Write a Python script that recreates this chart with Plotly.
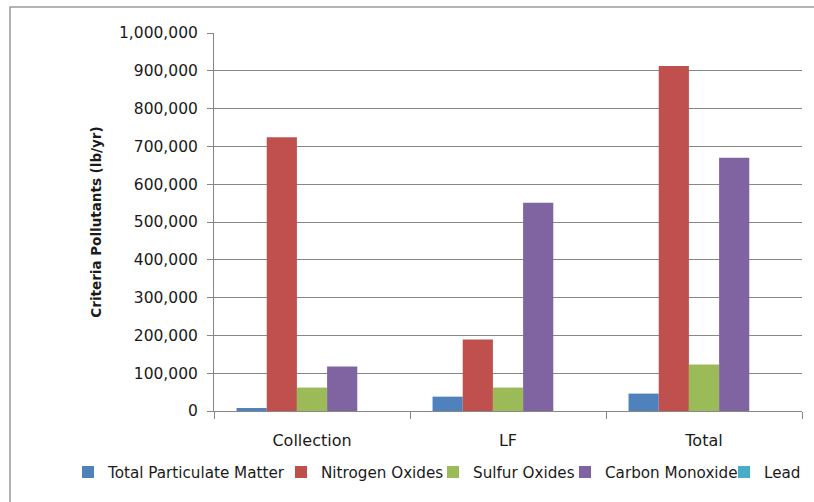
import plotly.graph_objects as go

categories = ["Collection", "LF", "Total"]
series_names = ["Total Particulate Matter", "Nitrogen Oxides", "Sulfur Oxides",
                "Carbon Monoxide", "Lead"]
tpm = [8000, 38000, 46000]
nox = [724000, 189000, 913000]
sox = [62000, 62000, 123000]
co = [118000, 551000, 670000]
lead = [0, 0, 0]
colors = ["#4F81BD", "#C0504D", "#9BBB59", "#8064A2", "#4BACC6"]
y_ticks = list(range(0, 1000001, 100000))
y_ticktext = [f"{v:,}" for v in y_ticks]

W, H = 814, 502
L, R, T, B = 214, 12, 33, 91
pw, ph = W - L - R, H - T - B

def px_x(p):
    return (p - L) / pw

def px_y(p):
    return (H - B - p) / ph

FONT = "DejaVu Sans"
TXT = "#1a1a1a"
GRID = "#878787"

fig = go.Figure()
values = [tpm, nox, sox, co, lead]
legend_ids = ["legend", "legend2", "legend3", "legend4", "legend5"]
for name, vals, col, lg in zip(series_names, values, colors, legend_ids):
    fig.add_trace(go.Bar(x=categories, y=vals, name=name, marker_color=col,
                         marker_line_width=0, legend=lg))

# legend item origins (text starts ~40px right of origin)
legend_px = [68, 281, 433, 565, 724]
leg_y = px_y(472)
layout_legends = {}
for lg, p in zip(legend_ids, legend_px):
    layout_legends[lg] = dict(x=px_x(p), y=leg_y, xanchor="left", yanchor="middle",
                              orientation="h", bgcolor="rgba(0,0,0,0)",
                              font=dict(family=FONT, size=15.2, color=TXT),
                              borderwidth=0)

fig.update_layout(
    width=W, height=H,
    margin=dict(l=L, r=R, t=T, b=B, pad=0, autoexpand=False),
    paper_bgcolor="white", plot_bgcolor="white",
    barmode="group", bargap=0.23, bargroupgap=0,
    showlegend=True,
    **layout_legends,
    xaxis=dict(
        type="category", showgrid=False, showline=True, linecolor=GRID, linewidth=1,
        ticks="outside", tickson="boundaries", ticklen=7, tickcolor=GRID,
        tickfont=dict(family=FONT, size=16, color=TXT), ticklabelstandoff=15,
    ),
    yaxis=dict(
        range=[0, 1000000], tickvals=y_ticks, ticktext=y_ticktext,
        showgrid=True, gridcolor=GRID, gridwidth=1,
        showline=True, linecolor=GRID, linewidth=1,
        ticks="outside", ticklen=6, tickcolor=GRID,
        tickfont=dict(family=FONT, size=15.5, color=TXT), ticklabelstandoff=6,
        zeroline=False,
        title=dict(text="<b>Criteria Pollutants (lb/yr)</b>", standoff=14,
                   font=dict(family=FONT, size=13.5, color=TXT)),
    ),
    shapes=[dict(type="rect", xref="paper", yref="paper",
                 x0=px_x(10), x1=px_x(840), y0=px_y(540), y1=px_y(7),
                 line=dict(color="#9a9a9a", width=1.5), fillcolor="rgba(0,0,0,0)",
                 layer="below")],
)

fig.write_html("out.html", config={"displayModeBar": False},
               post_script="document.body.style.margin='0';document.body.style.overflow='hidden';")
